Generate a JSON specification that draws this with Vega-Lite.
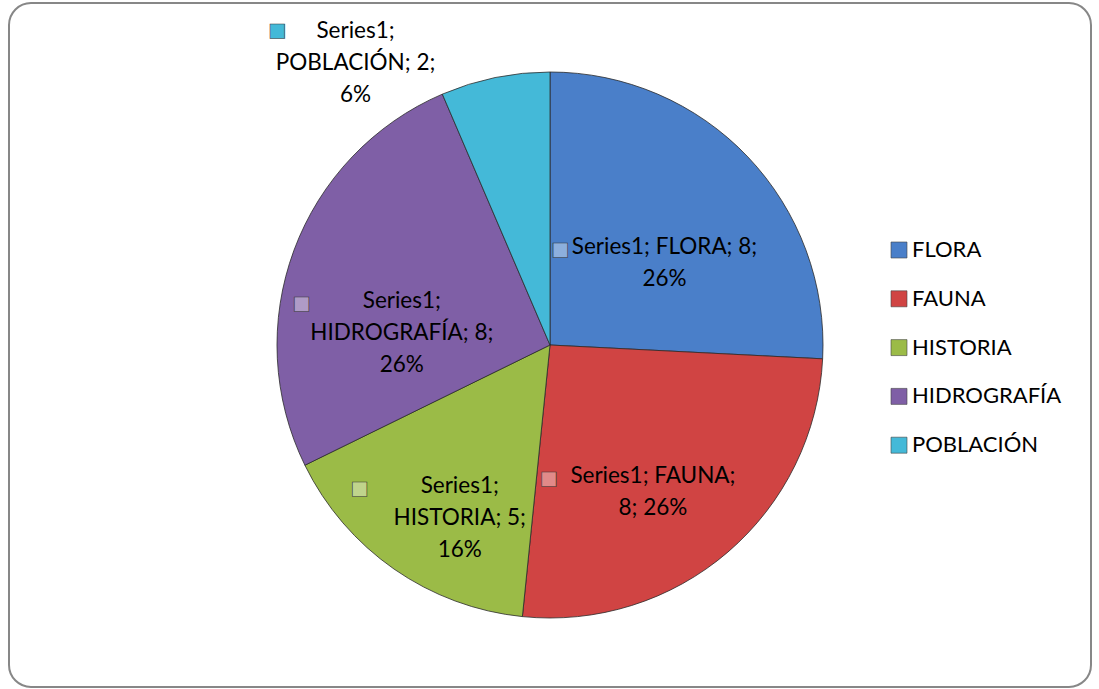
{
  "$schema": "https://vega.github.io/schema/vega-lite/v6.json",
  "width": 1082,
  "height": 684,
  "autosize": {"type": "none"},
  "padding": {"left": 9, "top": 3, "right": 8, "bottom": 2},
  "background": "white",
  "view": {"stroke": "#878787", "strokeWidth": 2, "cornerRadius": 22, "fill": "white"},
  "config": {"font": "Lato"},
  "data": {
    "values": [
      {"orden": 1, "tema": "FLORA", "valor": 8, "etiqueta": "Series1; FLORA; 8;\n26%"},
      {"orden": 2, "tema": "FAUNA", "valor": 8, "etiqueta": "Series1; FAUNA;\n8; 26%"},
      {"orden": 3, "tema": "HISTORIA", "valor": 5, "etiqueta": "Series1;\nHISTORIA; 5;\n16%"},
      {"orden": 4, "tema": "HIDROGRAFÍA", "valor": 8, "etiqueta": "Series1;\nHIDROGRAFÍA; 8;\n26%"},
      {"orden": 5, "tema": "POBLACIÓN", "valor": 2, "etiqueta": "Series1;\nPOBLACIÓN; 2;\n6%"}
    ]
  },
  "encoding": {
    "theta": {"field": "valor", "type": "quantitative", "stack": true},
    "order": {"field": "orden", "type": "quantitative"},
    "color": {
      "field": "tema",
      "type": "nominal",
      "scale": {
        "domain": ["FLORA", "FAUNA", "HISTORIA", "HIDROGRAFÍA", "POBLACIÓN"],
        "range": ["#4a7fc9", "#d04443", "#9bbb47", "#7f5fa6", "#44b9d8"]
      },
      "legend": {
        "orient": "none",
        "legendX": 879,
        "legendY": 236,
        "title": null,
        "symbolType": "square",
        "symbolSize": 256,
        "symbolStrokeColor": "#444",
        "symbolStrokeWidth": 0.6,
        "labelFontSize": 22,
        "labelFont": "Lato",
        "labelColor": "#000",
        "labelOffset": 2,
        "rowPadding": 26.8
      }
    }
  },
  "layer": [
    {
      "mark": {"type": "arc", "outerRadius": 273, "stroke": "#2b2b2b", "strokeWidth": 0.8}
    },
    {
      "mark": {"type": "text", "radius": 158, "align": "center", "baseline": "top", "fontSize": 22.5, "lineHeight": 32, "lineBreak": "\n", "font": "Lato"},
      "encoding": {
        "text": {"condition": {"test": "datum.valor >= 3", "field": "etiqueta"}, "value": ""},
        "color": {"value": "#000"}
      }
    },
    {
      "mark": {"type": "text", "radius": 340, "dx": -126, "dy": 8, "align": "center", "baseline": "top", "fontSize": 22.5, "lineHeight": 32, "lineBreak": "\n", "font": "Lato"},
      "encoding": {
        "text": {"condition": {"test": "datum.valor < 3", "field": "etiqueta"}, "value": ""},
        "color": {"value": "#000"}
      }
    },
    {
      "mark": {"type": "text", "radius": 158, "font": "DejaVu Sans", "fontSize": 19, "baseline": "top", "dx": -104, "dy": 4, "stroke": "#333", "strokeWidth": 0.6, "fillOpacity": 0.4},
      "encoding": {
        "text": {"condition": {"test": "datum.valor >= 3 && indexof(datum.etiqueta, '\\n') > 10", "value": "■"}, "value": ""},
        "color": {"value": "white"}
      }
    },
    {
      "mark": {"type": "text", "radius": 158, "font": "DejaVu Sans", "fontSize": 19, "baseline": "top", "dx": -100, "dy": 4, "stroke": "#333", "strokeWidth": 0.6, "fillOpacity": 0.4},
      "encoding": {
        "text": {"condition": {"test": "datum.valor >= 3 && indexof(datum.etiqueta, '\\n') <= 10", "value": "■"}, "value": ""},
        "color": {"value": "white"}
      }
    },
    {
      "mark": {"type": "text", "radius": 340, "font": "DejaVu Sans", "fontSize": 19, "baseline": "top", "dx": -204, "dy": 9, "stroke": "#333", "strokeWidth": 0.6},
      "encoding": {
        "text": {"condition": {"test": "datum.valor < 3", "value": "■"}, "value": ""}
      }
    }
  ]
}
